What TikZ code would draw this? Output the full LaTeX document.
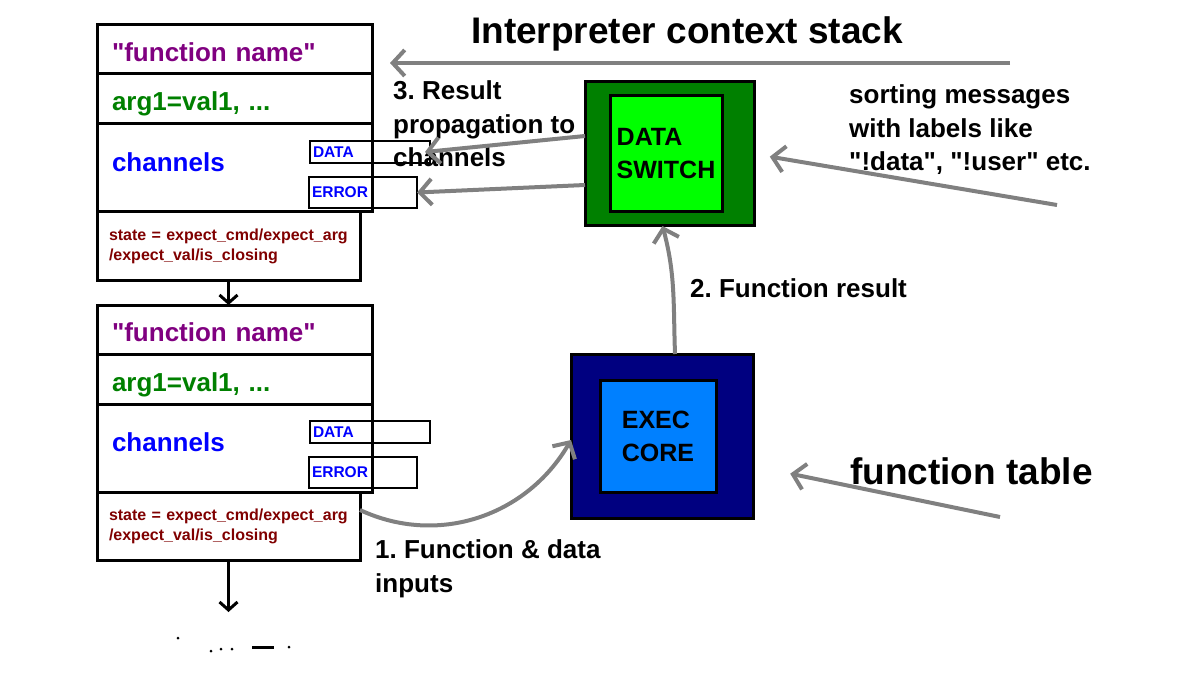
\documentclass[tikz,border=0pt]{standalone}
\usepackage{fontspec}
\setmainfont{Liberation Sans}[Ligatures=TeXOff]
\usepackage{tikz}
\usetikzlibrary{arrows.meta,positioning,calc}
\frenchspacing
\definecolor{FnPurple}{HTML}{800080}
\definecolor{ArgGreen}{HTML}{008000}
\definecolor{ChanBlue}{HTML}{0000FF}
\definecolor{StateRed}{HTML}{800000}
\definecolor{SwitchDark}{HTML}{008000}
\definecolor{SwitchLime}{HTML}{00FF00}
\definecolor{CoreNavy}{HTML}{000080}
\definecolor{CoreBlue}{HTML}{0080FF}
\definecolor{ArrGray}{HTML}{808080}
\tikzset{
  % Stack row
  SR/.style={rectangle,draw,line width=3pt,outer sep=0pt,
             minimum width=275pt,text width=245pt,inner xsep=15pt,
             align=left,font=\fontsize{26}{30}\selectfont\bfseries},
  % Channel tab
  TB/.style={rectangle,draw,line width=2.5pt,outer sep=0pt,anchor=north west,
             inner xsep=3pt,inner ysep=0pt,align=left,text=ChanBlue,
             font=\fontsize{15.5}{18}\selectfont\bfseries},
  % State box
  ST/.style={rectangle,draw,line width=3pt,outer sep=0pt,anchor=north west,
             minimum width=263pt,minimum height=68pt,text width=239pt,
             inner xsep=12pt,align=left,text=StateRed,
             font=\fontsize{16}{20}\selectfont\bfseries},
  % Outer and inner block
  OB/.style={rectangle,draw,line width=3pt,outer sep=0pt},
  IB/.style={rectangle,draw,line width=3pt,outer sep=0pt,align=left,
             font=\fontsize{25}{33}\selectfont\bfseries},
  % Arrows
  darr/.style={-{Straight Barb[length=8pt,width=18pt]},line width=3pt},
  garr/.style={-{Straight Barb[length=12pt,width=26pt]},line width=4pt,draw=ArrGray},
  % Free text (anchored at the last line)
  TX/.style={anchor=base west,align=left,inner sep=0pt,
             font=\fontsize{26}{33.5}\selectfont\bfseries},
  BT/.style={anchor=base west,inner sep=0pt,font=\fontsize{37}{44}\selectfont\bfseries}
}
\begin{document}
\begin{tikzpicture}[x=1pt,y=-1pt]
  \useasboundingbox (0,0) rectangle (1190,676);
  \node[BT] (title) at (471,44) {Interpreter context stack};

  \node[SR,anchor=north west,minimum height=49pt,text height=24pt,text=FnPurple] (fn1) at (97,25) {"function name"};
  \node[SR,minimum height=50pt,text height=24pt,text depth=0pt,text=ArgGreen,below=0pt of fn1] (arg1) {arg1=val1, ...};
  \node[SR,minimum height=88pt,text depth=12pt,text=ChanBlue,below=0pt of arg1] (chan1) {channels};
  \node[TB,minimum height=22pt,text width=114pt] (data1) at ([xshift=-62pt,yshift=-17pt]chan1.north east) {DATA};
  \node[TB,minimum height=31pt,text width=102pt] (err1)  at ([xshift=-63pt,yshift=-53pt]chan1.north east) {ERROR};
  \node[ST] (state1) at (chan1.south west) {state = expect\_cmd/expect\_arg\\/expect\_val/is\_closing};

  \node[SR,minimum height=49pt,text height=24pt,text=FnPurple,below=25pt of state1.south west,anchor=north west] (fn2) {"function name"};
  \node[SR,minimum height=50pt,text height=24pt,text depth=0pt,text=ArgGreen,below=0pt of fn2] (arg2) {arg1=val1, ...};
  \node[SR,minimum height=88pt,text depth=12pt,text=ChanBlue,below=0pt of arg2] (chan2) {channels};
  \node[TB,minimum height=22pt,text width=114pt] (data2) at ([xshift=-62pt,yshift=-17pt]chan2.north east) {DATA};
  \node[TB,minimum height=31pt,text width=102pt] (err2)  at ([xshift=-63pt,yshift=-53pt]chan2.north east) {ERROR};
  \node[ST] (state2) at (chan2.south west) {state = expect\_cmd/expect\_arg\\/expect\_val/is\_closing};
  \coordinate (more) at (state2.south |- 0,612);

  \draw[darr] (state1.south) -- (state1.south |- fn2.north);
  \draw[darr] (state2.south) -- (more);
  \fill (178,638) circle (1.5pt) (211,651) circle (1.5pt) (221,649) circle (1.5pt)
        (232,649) circle (1.5pt) (289,647) circle (1.5pt);
  \draw[line width=3pt] (252,647) -- (274,647);

  \node[OB,fill=SwitchDark,minimum width=169pt,minimum height=144pt] (dsw) at (669.5,154) {};
  \node[IB,fill=SwitchLime,minimum width=112pt,minimum height=116pt,inner xsep=4pt] (dswin) at ([xshift=-3.5pt]dsw.center) {DATA\\SWITCH};
  \node[OB,fill=CoreNavy,minimum width=182pt,minimum height=164pt] (exec) at (662,436) {};
  \node[IB,fill=CoreBlue,minimum width=116pt,minimum height=112pt] (execin) at ([xshift=-4pt]exec.center) {EXEC\\CORE};

  \node[TX] (res)   at (393,167) {3. Result\\propagation to\\channels};
  \node[TX] (sortl) at (849,171) {sorting messages\\with labels like\\"!data", "!user" etc.};
  \node[TX] (fres)  at (690,297) {2. Function result};
  \node[TX] (finp)  at (375,592) {1. Function \& data\\inputs};
  \node[BT] (ftab)  at (850,484) {function table};

  \coordinate (ctx)     at (1010,63);
  \coordinate (sortsrc) at (1057,205);
  \coordinate (ftsrc)   at (1000,517);
  \draw[garr,shorten >=18pt] (ctx) -- (ctx -| fn1.east);
  \draw[garr] ([yshift=18pt]dsw.west) -- ([xshift=-5pt]data1.east);
  \draw[garr] ([yshift=-31pt]dsw.west) -- (err1.east);
  \draw[garr] ([xshift=13pt]exec.north) to[out=92,in=-75] ([xshift=-7pt]dsw.south);
  \draw[garr] ([yshift=16pt]state2.east) to[out=-25,in=240] ([yshift=-4pt]exec.west);
  \draw[garr,shorten >=16pt] (sortsrc) -- (dsw.east);
  \draw[garr,shorten >=38pt] (ftsrc) -- ([yshift=-30pt]exec.east);
\end{tikzpicture}
\end{document}
